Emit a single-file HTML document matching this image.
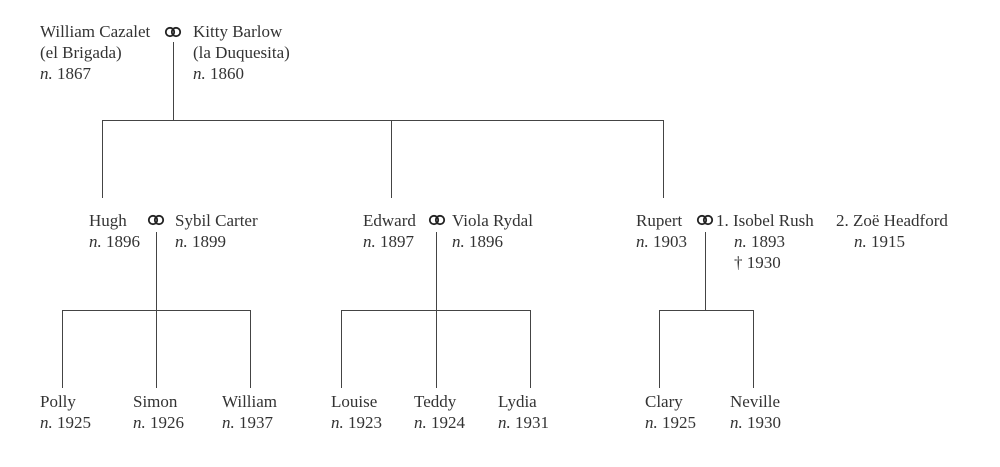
<!DOCTYPE html>
<html><head><meta charset="utf-8"><style>
html,body{margin:0;padding:0;background:#fff;}
svg{display:block}
text{font-family:"Liberation Serif",serif;font-size:17px;fill:#333;}
.i{font-style:italic}
</style></head><body>
<svg width="1000" height="467" viewBox="0 0 1000 467" xmlns="http://www.w3.org/2000/svg">
<defs>
<g id="m" fill="none" stroke="#222" stroke-width="1.8"><circle cx="-3" cy="0" r="4.2"/><circle cx="3" cy="0" r="4.2"/></g>
</defs>
<g stroke="#444" stroke-width="1" fill="none">
<path d="M173.5 42V120.5M102.5 120.5H663.5M102.5 120V198M391.5 120V198M663.5 120V198"/>
<path d="M156.5 232V310.5M62.5 310.5H250.5M62.5 310V388M156.5 310V388M250.5 310V388"/>
<path d="M436.5 232V310.5M341.5 310.5H530.5M341.5 310V388M436.5 310V388M530.5 310V388"/>
<path d="M705.5 232V310.5M659.5 310.5H753.5M659.5 310V388M753.5 310V388"/>
</g>
<use href="#m" x="173" y="32"/>
<use href="#m" x="156" y="220"/>
<use href="#m" x="437" y="220"/>
<use href="#m" x="705" y="220"/>

<text x="40" y="37">William Cazalet</text>
<text x="40" y="58">(el Brigada)</text>
<text x="40" y="79"><tspan class="i">n.</tspan> 1867</text>
<text x="193" y="37">Kitty Barlow</text>
<text x="193" y="58">(la Duquesita)</text>
<text x="193" y="79"><tspan class="i">n.</tspan> 1860</text>

<text x="89" y="226">Hugh</text>
<text x="89" y="247"><tspan class="i">n.</tspan> 1896</text>
<text x="175" y="226">Sybil Carter</text>
<text x="175" y="247"><tspan class="i">n.</tspan> 1899</text>

<text x="363" y="226">Edward</text>
<text x="363" y="247"><tspan class="i">n.</tspan> 1897</text>
<text x="452" y="226">Viola Rydal</text>
<text x="452" y="247"><tspan class="i">n.</tspan> 1896</text>

<text x="636" y="226">Rupert</text>
<text x="636" y="247"><tspan class="i">n.</tspan> 1903</text>
<text x="716" y="226">1. Isobel Rush</text>
<text x="734" y="247"><tspan class="i">n.</tspan> 1893</text>
<text x="734" y="268">† 1930</text>
<text x="836" y="226">2. Zoë Headford</text>
<text x="854" y="247"><tspan class="i">n.</tspan> 1915</text>

<text x="40" y="407">Polly</text><text x="40" y="428"><tspan class="i">n.</tspan> 1925</text>
<text x="133" y="407">Simon</text><text x="133" y="428"><tspan class="i">n.</tspan> 1926</text>
<text x="222" y="407">William</text><text x="222" y="428"><tspan class="i">n.</tspan> 1937</text>
<text x="331" y="407">Louise</text><text x="331" y="428"><tspan class="i">n.</tspan> 1923</text>
<text x="414" y="407">Teddy</text><text x="414" y="428"><tspan class="i">n.</tspan> 1924</text>
<text x="498" y="407">Lydia</text><text x="498" y="428"><tspan class="i">n.</tspan> 1931</text>
<text x="645" y="407">Clary</text><text x="645" y="428"><tspan class="i">n.</tspan> 1925</text>
<text x="730" y="407">Neville</text><text x="730" y="428"><tspan class="i">n.</tspan> 1930</text>
</svg>
</body></html>
